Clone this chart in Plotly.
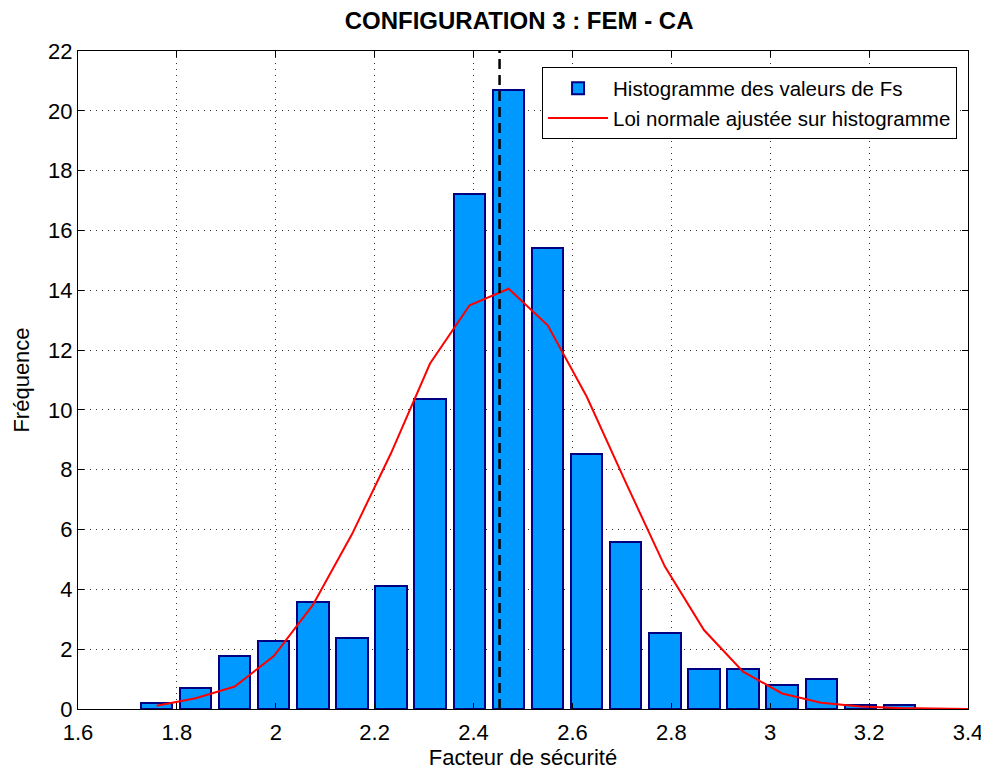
"""Histogramme du facteur de sécurité (configuration 3 : FEM - CA) avec loi normale ajustée."""

import plotly.graph_objects as go

# ---------- données ----------
# centres des classes de l'histogramme
bin_centers = [1.759, 1.838, 1.917, 1.996, 2.075, 2.154, 2.233, 2.312, 2.392, 2.471,
               2.550, 2.629, 2.708, 2.787, 2.866, 2.945, 3.024, 3.103, 3.182, 3.261]
# fréquences (hauteurs des barres)
freq = [0.19, 0.71, 1.78, 2.28, 3.59, 2.37, 4.11, 10.35, 17.22, 20.70,
        15.43, 8.52, 5.58, 2.53, 1.33, 1.33, 0.81, 1.01, 0.13, 0.13]

# loi normale ajustée
fit_x = bin_centers + [3.4]
fit_y = [0.11, 0.36, 0.75, 1.77, 3.48, 5.84, 8.55, 11.55, 13.50, 14.05,
         12.83, 10.44, 7.57, 4.76, 2.64, 1.25, 0.52, 0.21, 0.08, 0.03, 0.0]

# moyenne (trait vertical en pointillés)
mean_fs = 2.4526
mean_line_y = [0, 22]

bin_width = 0.0633

FONT = "Arial, Liberation Sans, sans-serif"

# ---------- figure ----------
fig = go.Figure()

fig.add_trace(go.Bar(
    x=bin_centers,
    y=freq,
    width=bin_width,
    name="Histogramme des valeurs de Fs",
    marker=dict(color="#0099FF", line=dict(color="#000080", width=2)),
))

fig.add_trace(go.Scatter(
    x=fit_x,
    y=fit_y,
    mode="lines",
    name="Loi normale ajustée sur histogramme",
    line=dict(color="#FF0000", width=2),
))

fig.add_trace(go.Scatter(
    x=[mean_fs, mean_fs],
    y=mean_line_y,
    mode="lines",
    showlegend=False,
    line=dict(color="black", width=2.5, dash="10px,6px"),
))

axis_common = dict(
    showline=True,
    linecolor="black",
    linewidth=1,
    mirror="allticks",
    ticks="inside",
    ticklen=6,
    tickcolor="black",
    showgrid=True,
    gridcolor="#333333",
    gridwidth=1,
    griddash="1px,5px",
    zeroline=False,
    automargin=False,
    tickfont=dict(family=FONT, size=22, color="black"),
)

# la page ajoute une marge de 8 px autour du graphique : on la compense
fig.update_layout(
    title=dict(
        text="<b>CONFIGURATION 3 : FEM - CA</b>",
        font=dict(family=FONT, size=24, color="black"),
        x=0.521,
        xanchor="center",
        y=0.984,
        yanchor="middle",
    ),
    xaxis=dict(
        range=[1.6, 3.4],
        tickmode="array",
        tickvals=[1.6, 1.8, 2.0, 2.2, 2.4, 2.6, 2.8, 3.0, 3.2, 3.4],
        ticktext=["1.6", "1.8", "2", "2.2", "2.4", "2.6", "2.8", "3", "3.2", "3.4"],
        ticklabelstandoff=4,
        title=dict(text="Facteur de sécurité", font=dict(family=FONT, size=22, color="black"), standoff=4),
        **axis_common,
    ),
    yaxis=dict(
        range=[0, 22],
        tickmode="linear",
        tick0=0,
        dtick=2,
        title=dict(text="Fréquence", font=dict(family=FONT, size=22, color="black"), standoff=12),
        **axis_common,
    ),
    legend=dict(
        x=0.9877,
        y=0.975,
        xanchor="right",
        yanchor="top",
        bgcolor="white",
        bordercolor="black",
        borderwidth=1,
        itemwidth=60,
        font=dict(family=FONT, size=20.5, color="black"),
        tracegroupgap=0,
    ),
    bargap=0,
    plot_bgcolor="white",
    paper_bgcolor="white",
    margin=dict(l=70, r=21, t=43, b=63),
    width=981,
    height=764,
)

fig.write_html("out.html")
